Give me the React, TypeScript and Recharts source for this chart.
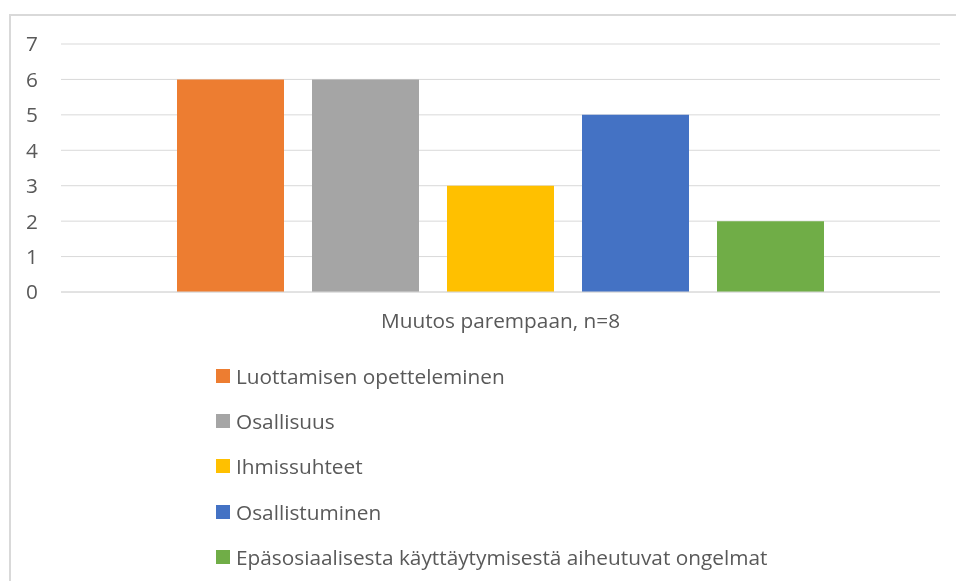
import { BarChart, Bar, XAxis, YAxis, CartesianGrid, Legend } from "recharts";

const categories = ["Muutos parempaan, n=8"];
const seriesNames = [
  "Luottamisen opetteleminen",
  "Osallisuus",
  "Ihmissuhteet",
  "Osallistuminen",
  "Epäsosiaalisesta käyttäytymisestä aiheutuvat ongelmat",
];
const seriesValues = [6, 6, 3, 5, 2];
const seriesColors = ["#ed7d31", "#a5a5a5", "#ffc000", "#4472c4", "#70ad47"];
const yTicks = [0, 1, 2, 3, 4, 5, 6, 7];

const FONT = "'Open Sans', sans-serif";
const TEXT = "#595959";
const SIZE = 20.8;

const data = categories.map((c) => {
  const row: Record<string, string | number> = { category: c };
  seriesNames.forEach((s, i) => {
    row[`s${i}`] = seriesValues[i];
  });
  return row;
});

function LegendBox() {
  return (
    <div style={{ fontFamily: FONT, fontSize: SIZE, color: TEXT }}>
      {seriesNames.map((name, i) => (
        <div
          key={name}
          style={{ display: "flex", alignItems: "center", height: 45.4 }}
        >
          <span
            style={{
              width: 14,
              height: 14,
              background: seriesColors[i],
              marginRight: 6,
              display: "inline-block",
            }}
          />
          <span>{name}</span>
        </div>
      ))}
    </div>
  );
}

export default function App() {
  return (
    <div>
      <div
        style={{
          position: "fixed",
          left: 9,
          top: 14,
          width: 947,
          height: 567,
          borderLeft: "2px solid #d9d9d9",
          borderTop: "2px solid #d9d9d9",
          boxSizing: "border-box",
        }}
      />
      <div style={{ position: "fixed", left: 0, top: 0 }}>
        <BarChart
          width={956}
          height={581}
          data={data}
          margin={{ top: 44, right: 16, left: 21, bottom: 239 }}
          barSize={107}
          barGap={28}
        >
          <CartesianGrid vertical={false} stroke="#d9d9d9" />
          <XAxis
            dataKey="category"
            height={50}
            tickLine={false}
            axisLine={{ stroke: "#d9d9d9" }}
            tick={{ fontFamily: FONT, fontSize: SIZE, fill: TEXT }}
            tickMargin={15}
          />
          <YAxis
            width={40}
            domain={[0, 7]}
            ticks={yTicks}
            axisLine={false}
            tickLine={false}
            tickMargin={17}
            tick={{ fontFamily: FONT, fontSize: SIZE, fill: TEXT }}
          />
          <Legend
            layout="vertical"
            align="center"
            verticalAlign="middle"
            content={() => <LegendBox />}
            wrapperStyle={{ left: 216, top: 353, width: 700 }}
          />
          {seriesNames.map((name, i) => (
            <Bar
              key={name}
              dataKey={`s${i}`}
              name={name}
              fill={seriesColors[i]}
              isAnimationActive={false}
            />
          ))}
        </BarChart>
      </div>
    </div>
  );
}
